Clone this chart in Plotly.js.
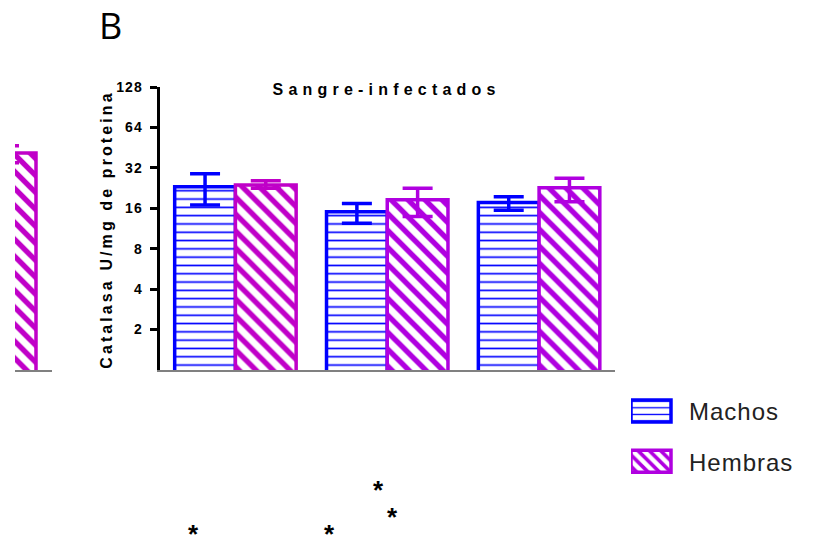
<!DOCTYPE html>
<html>
<head>
<meta charset="utf-8">
<script src="https://cdn.plot.ly/plotly-3.0.1.min.js"></script>
<style>
  html, body { margin: 0; padding: 0; background: #fff; }
  #chart { width: 814px; height: 538px; }
  .gtitle { letter-spacing: 5.2px; }
  g.annotation[data-index="0"] text { letter-spacing: 3.1px; }
  .ytick text { letter-spacing: 1px; }
  .legendtext { letter-spacing: 1px; }
</style>
</head>
<body>
<div id="chart"></div>
<script>
// ---- data ----
const categories = ['Grupo 1', 'Grupo 2', 'Grupo 3'];
const machosValues = [23.1, 15.1, 17.7];
const machosPlus   = [5.8, 2.3, 1.8];
const machosMinus  = [6.2, 2.7, 2.2];
const hembrasValues = [23.8, 18.5, 22.8];
const hembrasPlus   = [1.9, 4.1, 4.0];
const hembrasMinus  = [1.2, 4.6, 4.9];
// partial bar from the neighbouring panel (left edge)
const prevPanelValue = [41.2];
const prevPanelPlus  = [5.5];
const prevPanelMinus = [6.3];
const yTickVals = [2, 4, 8, 16, 32, 64, 128];
const yTickText = ['2', '4', '8', '16', '32', '64', '128'];
const starLabels = ['*', '*', '*', '*'];

// ---- geometry helpers (pixels -> paper) ----
const W = 814, H = 538, T = 87, B = 168;
const PH = H - T - B;
const px = x => x / W;
const py = y => (H - B - y) / PH;

const blue = '#0000FF';
const magenta = '#C000C8';
const purple = '#B000E0';
const FONT = 'Arial, Liberation Sans, sans-serif';

const machos = {
  type: 'bar', name: 'Machos', x: categories, y: machosValues,
  offsetgroup: 'M', legendgroup: 'M',
  marker: {
    color: '#ffffff',
    line: { color: blue, width: 3.5 },
    pattern: { shape: '-', fgcolor: blue, bgcolor: '#ffffff', size: 8.3, solidity: 0.2, fillmode: 'replace' }
  },
  error_y: { type: 'data', symmetric: false, array: machosPlus, arrayminus: machosMinus,
             color: blue, thickness: 3.5, width: 15 },
  hoverinfo: 'skip'
};

const hembrasA = {
  type: 'bar', name: 'Hembras', x: categories.slice(0, 1), y: hembrasValues.slice(0, 1),
  offsetgroup: 'H', legendgroup: 'H', showlegend: false,
  marker: {
    color: '#ffffff',
    line: { color: magenta, width: 3.5 },
    pattern: { shape: '\\', fgcolor: magenta, bgcolor: '#ffffff', size: 12, solidity: 0.45, fillmode: 'replace' }
  },
  error_y: { type: 'data', symmetric: false, array: hembrasPlus.slice(0, 1), arrayminus: hembrasMinus.slice(0, 1),
             color: magenta, thickness: 3.5, width: 15 },
  hoverinfo: 'skip'
};

const hembrasB = {
  type: 'bar', name: 'Hembras', x: categories.slice(1), y: hembrasValues.slice(1),
  offsetgroup: 'H', legendgroup: 'H',
  marker: {
    color: '#ffffff',
    line: { color: purple, width: 3.5 },
    pattern: { shape: '\\', fgcolor: purple, bgcolor: '#ffffff', size: 12, solidity: 0.45, fillmode: 'replace' }
  },
  error_y: { type: 'data', symmetric: false, array: hembrasPlus.slice(1), arrayminus: hembrasMinus.slice(1),
             color: purple, thickness: 3.5, width: 15 },
  hoverinfo: 'skip'
};

const prevPanel = {
  type: 'bar', name: 'prev', x: [0], y: prevPanelValue, width: [64],
  xaxis: 'x2', yaxis: 'y', showlegend: false,
  marker: {
    color: '#ffffff',
    line: { color: magenta, width: 3.5 },
    pattern: { shape: '\\', fgcolor: magenta, bgcolor: '#ffffff', size: 12, solidity: 0.45, fillmode: 'replace' }
  },
  error_y: { type: 'data', symmetric: false, array: prevPanelPlus, arrayminus: prevPanelMinus,
             color: magenta, thickness: 3.5, width: 15 },
  hoverinfo: 'skip'
};

const starPos = [[193.3, 530], [329.3, 530], [378.7, 486], [392.3, 513]];
const annotations = [
  { text: '<b>Catalasa U/mg de proteina</b>', xref: 'paper', yref: 'paper',
    x: px(106), y: py(230), textangle: -90, showarrow: false,
    xanchor: 'center', yanchor: 'middle',
    font: { family: FONT, size: 16, color: '#000', weight: 700 } },
  { text: 'B', xref: 'paper', yref: 'paper', x: px(110), y: py(25),
    showarrow: false, xanchor: 'center', yanchor: 'middle',
    font: { family: 'Open Sans, Liberation Sans', size: 36, color: '#000' } }
].concat(starLabels.map((s, i) => ({
  text: '<b>' + s + '</b>', xref: 'paper', yref: 'paper', x: px(starPos[i][0]), y: py(starPos[i][1] + 4),
  showarrow: false, xanchor: 'center', yanchor: 'middle',
  font: { family: FONT, size: 26, color: '#000', weight: 700 }
})));

const layout = {
  width: W, height: H,
  margin: { l: 0, r: 0, t: T, b: B, pad: 0 },
  paper_bgcolor: '#ffffff', plot_bgcolor: 'rgba(0,0,0,0)',
  showlegend: true,
  barmode: 'group', bargap: 0.2, bargroupgap: 0,
  title: {
    text: '<b>Sangre-infectados</b>',
    x: (384 + 2.6) / W, y: 1 - 89.5 / H, xref: 'container', yref: 'container',
    xanchor: 'center', yanchor: 'middle',
    font: { family: FONT, size: 16, color: '#000', weight: 700 }
  },
  xaxis: {
    domain: [px(159.5), px(615)],
    range: [-0.5, 2.5],
    showline: true, linecolor: '#808080', linewidth: 2,
    ticks: '', showticklabels: false, showgrid: false, zeroline: false,
    fixedrange: true
  },
  xaxis2: {
    domain: [px(15), px(52)], anchor: 'y',
    range: [11, 48],
    showline: true, linecolor: '#808080', linewidth: 2,
    ticks: '', showticklabels: false, showgrid: false, zeroline: false
  },
  yaxis: {
    type: 'log', range: [0, Math.log10(128)],
    tickvals: yTickVals, ticktext: yTickText.map(t => '<b>' + t + '</b>'),
    showline: true, linecolor: '#000', linewidth: 3,
    ticks: 'outside', ticklen: 7, tickwidth: 3, tickcolor: '#000',
    ticklabelstandoff: 4,
    tickfont: { family: FONT, size: 14, color: '#000', weight: 700 },
    showgrid: false, zeroline: false
  },
  legend: {
    x: px(631), y: py(389), xanchor: 'left', yanchor: 'top',
    traceorder: 'grouped', tracegroupgap: 16, itemwidth: 48,
    font: { family: FONT, size: 24, color: '#222' },
    bgcolor: 'rgba(0,0,0,0)', itemclick: false, itemdoubleclick: false
  },
  annotations: annotations
};

Plotly.newPlot('chart', [machos, hembrasB, hembrasA, prevPanel], layout, { staticPlot: true, displayModeBar: false })
  .then(() => {
    document.querySelectorAll('.legend .legendpoints path').forEach(p => {
      p.setAttribute('d', 'M11,11H-29V-11H11Z');
    });
  });
</script>
</body>
</html>
